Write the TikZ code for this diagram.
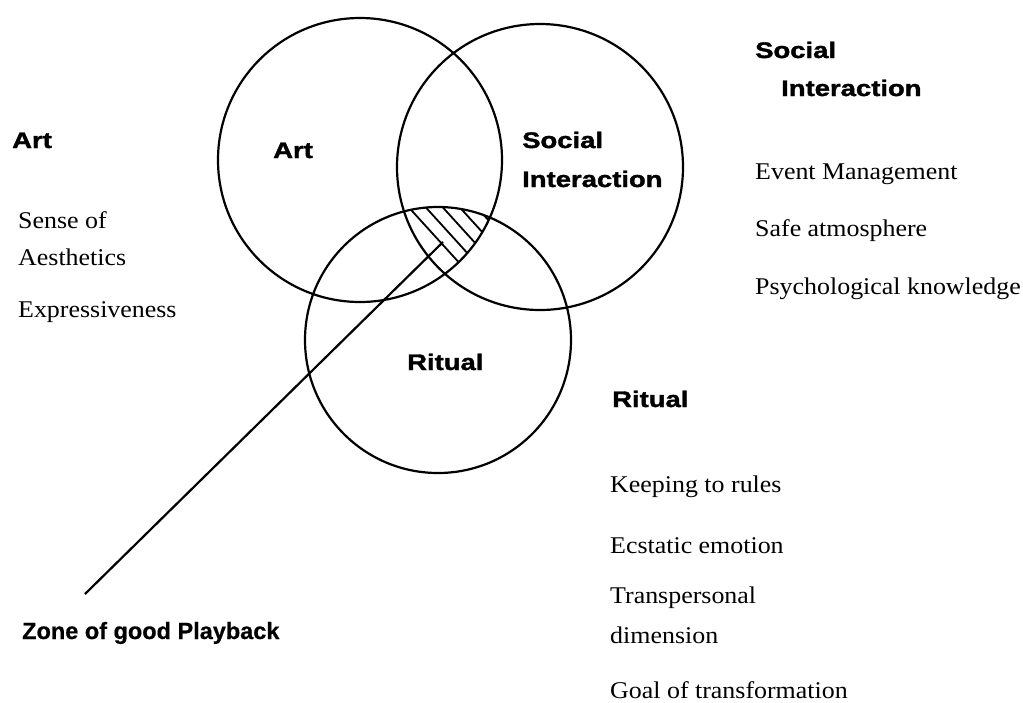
\documentclass[tikz,border=0pt]{standalone}
\usepackage{fontspec}
\setmainfont{Liberation Serif}
\newfontfamily\bodyfont[FakeStretch=1.08]{Liberation Serif}
\newfontfamily\heavyfont[FakeStretch=1.22,BoldFeatures={FakeBold=1.6}]{Liberation Sans}
\newfontfamily\zonefont[BoldFeatures={FakeBold=0.6}]{Liberation Sans}
\begin{document}
\begin{tikzpicture}[x=1pt,y=-1pt,
  venn/.style={circle,draw,line width=2.2pt,inner sep=0pt,outer sep=0pt},
  head/.style={font=\heavyfont\bfseries\fontsize{22.5}{26}\selectfont,anchor=base west,inner sep=0pt},
  zonelbl/.style={font=\zonefont\bfseries\fontsize{23.5}{28}\selectfont,anchor=base west,inner sep=0pt},
  item/.style={font=\bodyfont\fontsize{24}{28}\selectfont,anchor=base west,inner sep=0pt},
  hatch/.style={line width=1.8pt},
  connector/.style={line width=2.2pt}]
\useasboundingbox (0,0) rectangle (1023,702);
\fill[white] (0,0) rectangle (1023,702);
% circles
\node[venn,minimum size=284pt] (art) at (360,160) {};
\node[venn,minimum size=286pt] (social) at (540,167) {};
\node[venn,minimum size=266pt] (ritual) at (438,340) {};
% hatched zone
\begin{scope}
  \clip (art.center) circle (142pt);
  \clip (social.center) circle (143pt);
  \clip (ritual.center) circle (133pt);
  \foreach \x in {413,430,447,464,481}{
    \draw[hatch] (\x-40,212-44) -- (\x+110,212+121);
  }
\end{scope}
% connector to zone
\coordinate (zoneEnd) at (85,594);
\coordinate (hatchPt) at (443,242);
\draw[connector] (zoneEnd) -- (hatchPt);
% labels in circles
\node[head] (artIn) at (273,158) {Art};
\node[head] (socIn) at (522,148) {Social};
\node[head] (intIn) at (522,187) {Interaction};
\node[head] (ritIn) at (407,370) {Ritual};
% left column
\node[head] (artHd) at (12,148) {Art};
\node[item] (sense) at (18,228) {Sense of};
\node[item] (aesth) at (18,265) {Aesthetics};
\node[item] (expr) at (18,317) {Expressiveness};
% right upper column
\node[head] (socHd) at (755,58) {Social};
\node[head] (intHd) at (781,96) {Interaction};
\node[item] (event) at (755,179) {Event Management};
\node[item] (safe) at (755,236) {Safe atmosphere};
\node[item] (psych) at (755,294) {Psychological knowledge};
% right lower column
\node[head] (ritHd) at (612,407) {Ritual};
\node[item] (keep) at (610,492) {Keeping to rules};
\node[item] (ecst) at (610,553) {Ecstatic emotion};
\node[item] (trans) at (610,603) {Transpersonal};
\node[item] (dimen) at (610,643) {dimension};
\node[item] (goal) at (610,698) {Goal of transformation};
% zone label
\node[zonelbl] (zone) at (22,639) {Zone of good Playback};
\end{tikzpicture}
\end{document}
